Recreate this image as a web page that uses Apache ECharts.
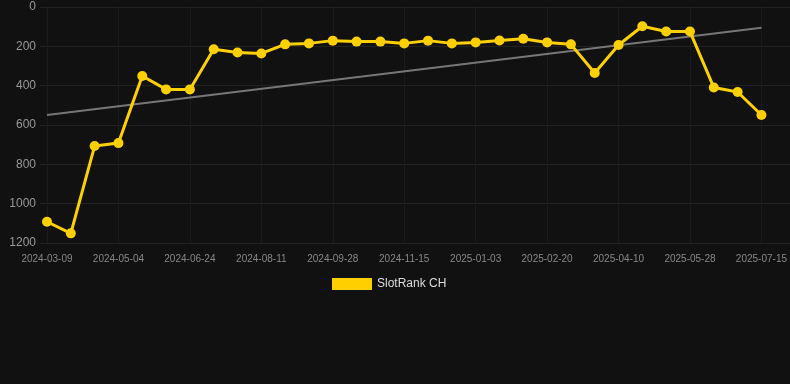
<!DOCTYPE html>
<html>
<head>
<meta charset="utf-8">
<script src="https://cdn.jsdelivr.net/npm/echarts@6/dist/echarts.min.js"></script>
<style>
html,body{margin:0;padding:0;background:#111111;}
#chart{width:790px;height:384px;}
</style>
</head>
<body>
<div id="chart"></div>
<script>
var dates = ["2024-03-09","2024-03-27","2024-04-15","2024-05-04","2024-05-21","2024-06-07","2024-06-24","2024-07-10","2024-07-26","2024-08-11","2024-08-27","2024-09-12","2024-09-28","2024-10-14","2024-10-30","2024-11-15","2024-12-01","2024-12-17","2025-01-03","2025-01-19","2025-02-04","2025-02-20","2025-03-08","2025-03-24","2025-04-10","2025-04-26","2025-05-12","2025-05-28","2025-06-13","2025-06-29","2025-07-15"];
var rankCH = [1092,1151,707,692,351,419,419,215,231,236,190,185,171,176,176,185,171,185,180,170,161,180,190,336,193,98,125,125,409,432,549];
var trendEnds = [549,105];
var yTicks = [0,200,400,600,800,1000,1200];
var seriesName = "SlotRank CH";

var trendData = dates.map(function(d,i){
  if(i===0) return trendEnds[0];
  if(i===dates.length-1) return trendEnds[1];
  return null;
});

var chart = echarts.init(document.getElementById('chart'));
chart.setOption({
  backgroundColor:'#111111',
  animation:false,
  grid:[
    {left:40,right:0,top:7,bottom:141,containLabel:false},
    {left:47,right:28,top:7,bottom:141,containLabel:false}
  ],
  legend:{
    data:[{name:seriesName,icon:'rect'}],
    top:273,left:327,
    itemWidth:40,itemHeight:12,itemGap:10,
    textStyle:{color:'#dddddd',fontSize:12,fontFamily:'Liberation Sans, Arial, sans-serif'}
  },
  xAxis:[
    {gridIndex:0,type:'value',min:0,max:1,show:false},
    {gridIndex:1,type:'category',data:dates,boundaryGap:false,
     axisLine:{show:false},axisTick:{show:false},
     axisLabel:{interval:2,color:'#888888',fontSize:10,margin:11,fontFamily:'Liberation Sans, Arial, sans-serif'},
     splitLine:{show:true,interval:2,lineStyle:{color:'#1b1b1b',width:1}}}
  ],
  yAxis:[
    {gridIndex:0,type:'value',inverse:true,min:yTicks[0],max:yTicks[yTicks.length-1],interval:200,
     axisLine:{show:false},axisTick:{show:false},
     axisLabel:{color:'#999999',fontSize:12,margin:4,fontFamily:'Liberation Sans, Arial, sans-serif',
       formatter:function(v){return String(v);}},
     splitLine:{show:true,lineStyle:{color:'#222222',width:1}}},
    {gridIndex:1,type:'value',inverse:true,min:yTicks[0],max:yTicks[yTicks.length-1],interval:200,
     show:false,splitLine:{show:false}}
  ],
  series:[
    {name:'trend',type:'line',xAxisIndex:1,yAxisIndex:1,data:trendData,connectNulls:true,
     symbol:'none',lineStyle:{color:'#777777',width:2},silent:true,z:1},
    {name:seriesName,type:'line',xAxisIndex:1,yAxisIndex:1,data:rankCH,
     symbol:'circle',symbolSize:10,
     itemStyle:{color:'#FFD000'},lineStyle:{color:'#FFD000',width:3},z:3}
  ]
});
</script>
</body>
</html>
